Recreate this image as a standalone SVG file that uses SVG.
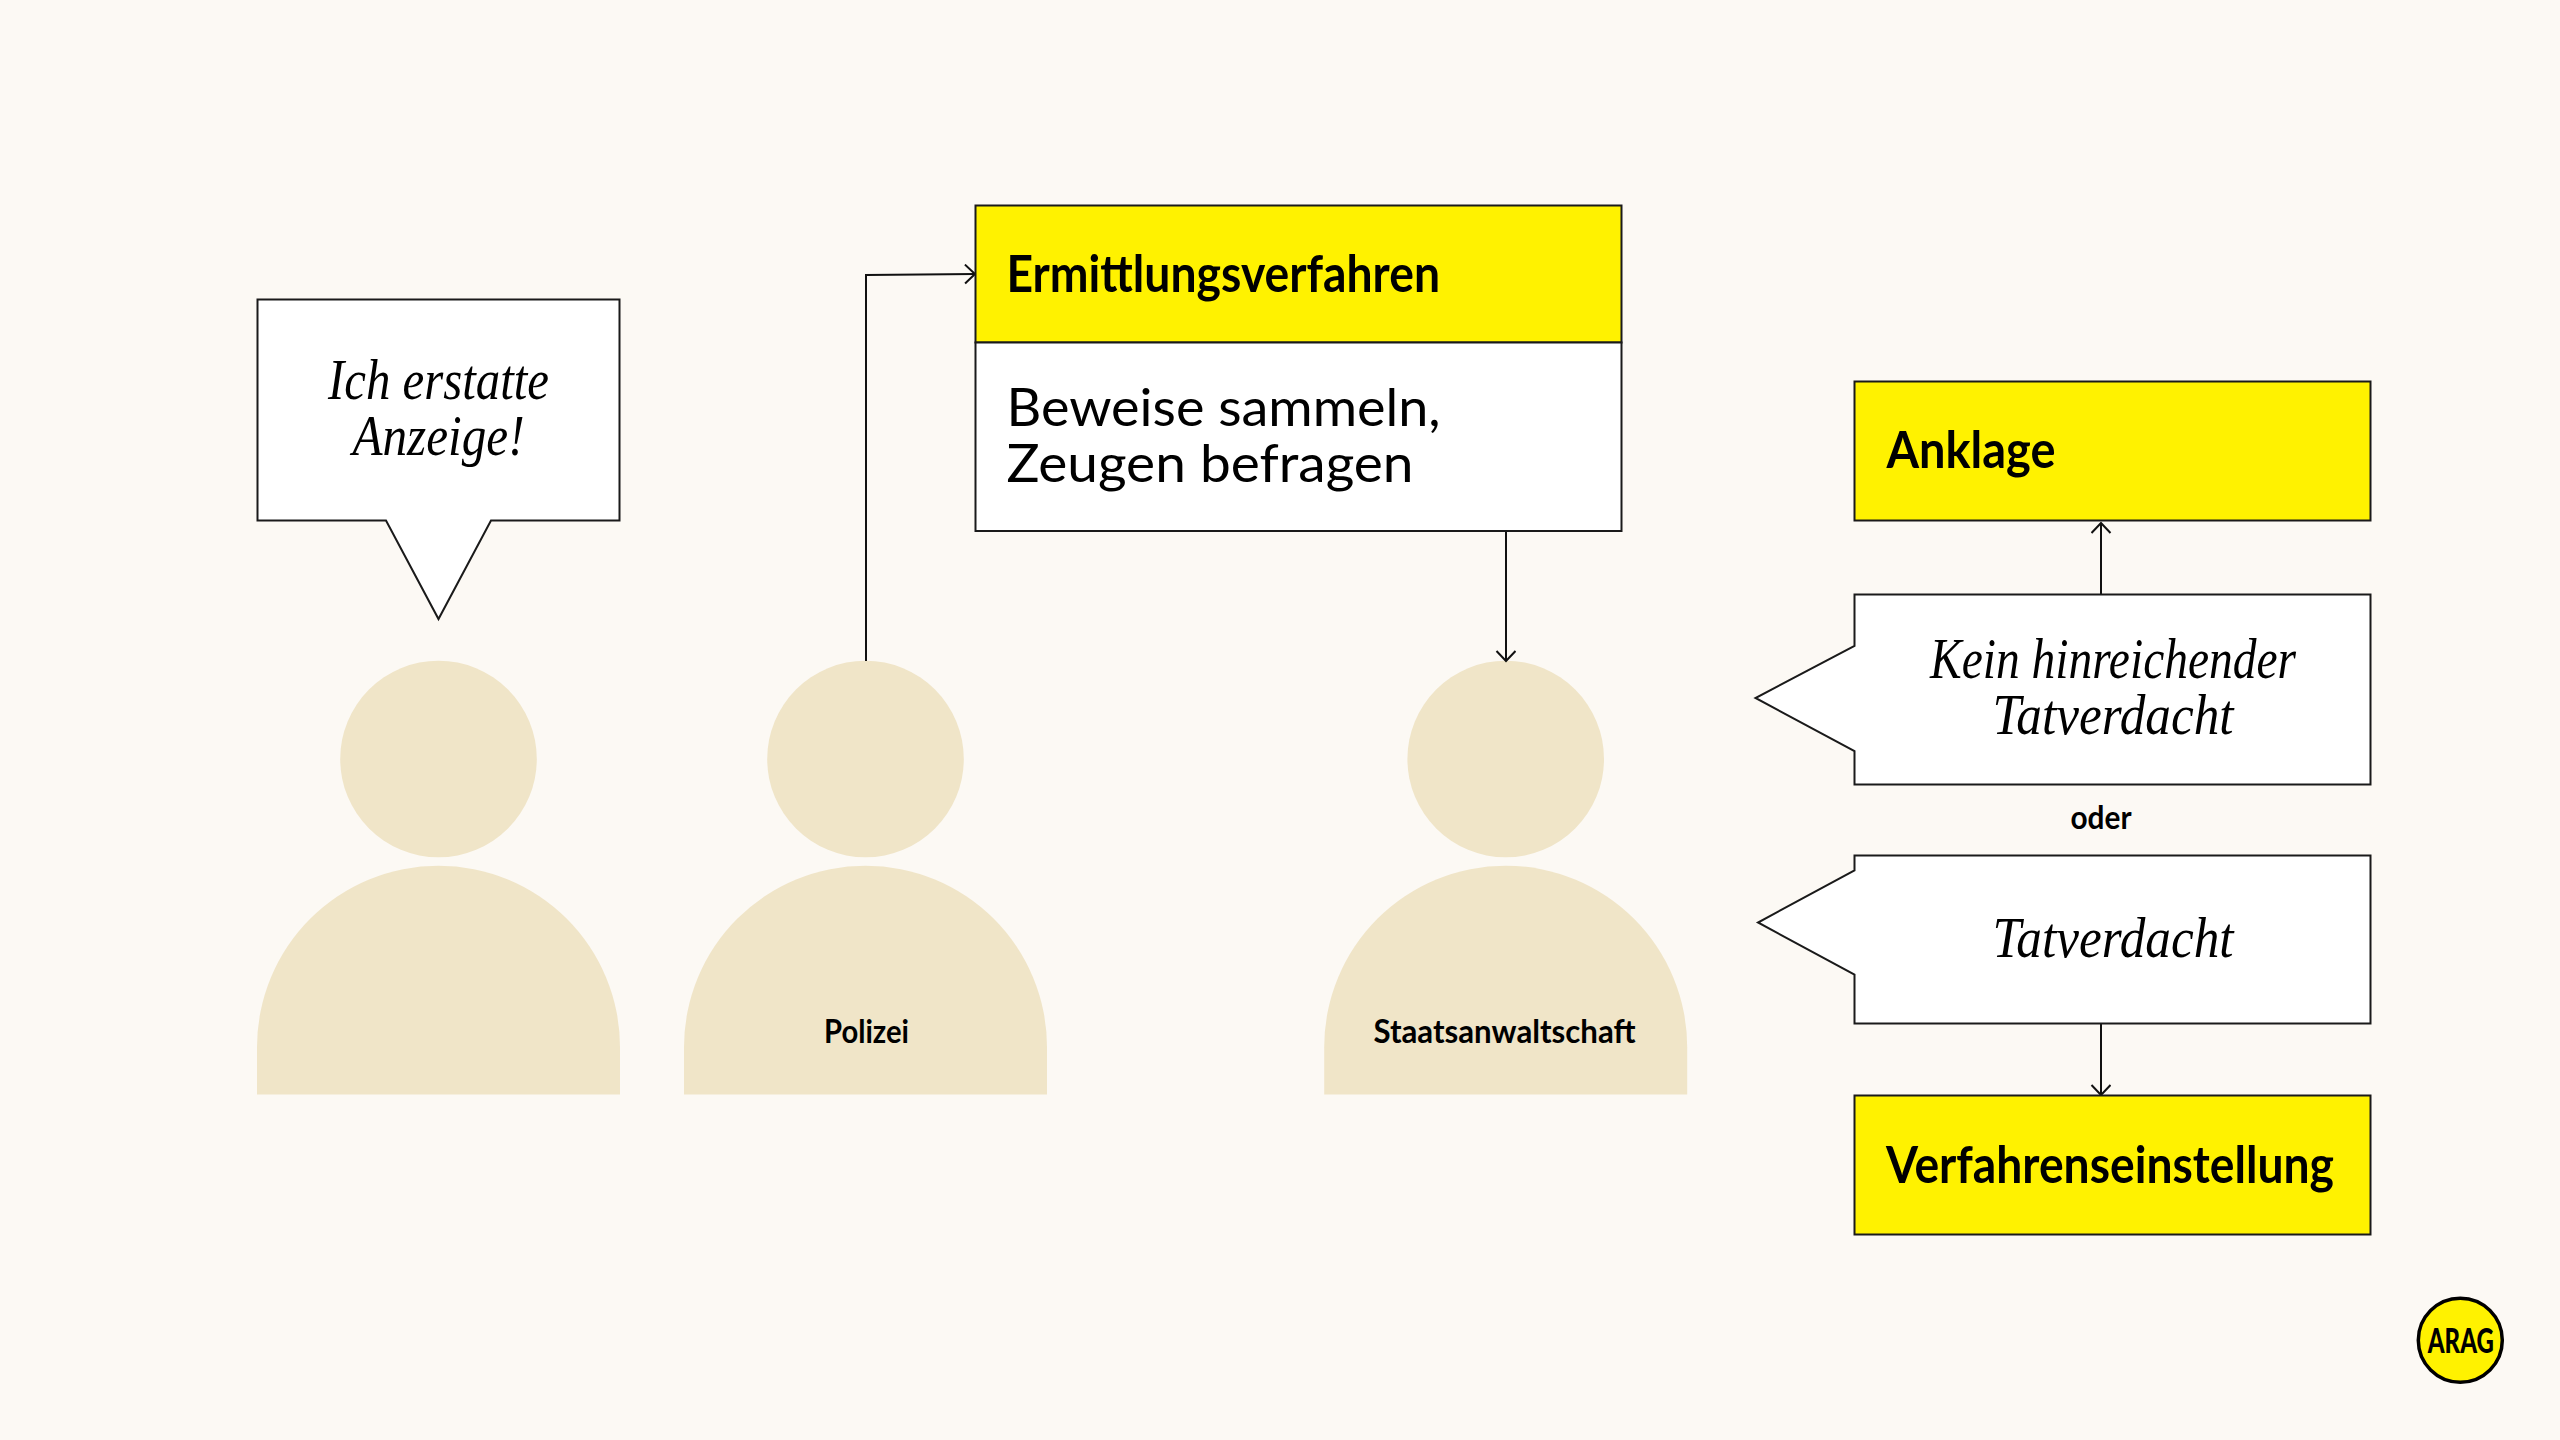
<svg xmlns="http://www.w3.org/2000/svg" width="2560" height="1440" viewBox="0 0 2560 1440">
<style>
.b{fill:#fff;stroke:#1a1a1a;stroke-width:2}
.y{fill:#fff200;stroke:#1a1a1a;stroke-width:2}
.p{fill:#f0e5c8}
.c{fill:none;stroke:#111;stroke-width:2}
.h{font-family:"Lato","Liberation Sans",sans-serif;font-weight:700;font-size:52px;fill:#000}
.r{font-family:"Lato","Liberation Sans",sans-serif;font-weight:400;font-size:52px;fill:#000}
.s{font-family:"Lato","Liberation Sans",sans-serif;font-weight:700;font-size:33px;fill:#000;text-anchor:middle}
.i{font-family:"Liberation Serif",serif;font-style:italic;font-size:56px;fill:#000;text-anchor:middle}
</style>
<defs>
<marker id="a" markerUnits="userSpaceOnUse" markerWidth="24" markerHeight="24" refX="20" refY="10" orient="auto"><path d="M10 0.500L20 10L10 19.500" fill="none" stroke="#111" stroke-width="2"/></marker>
<g id="person"><circle cx="0" cy="759" r="98.300" class="p"/><path class="p" d="M-181.500 1094.500V1047.200A181.500 181.500 0 0 1 181.500 1047.200V1094.500Z"/></g>
</defs>
<rect width="2560" height="1440" fill="#fcf9f4"/>
<g id="person-1"><use href="#person" x="438.500"/></g>
<g id="person-polizei"><use href="#person" x="865.500"/><text class="s" x="866.500" y="1043" textLength="85" lengthAdjust="spacingAndGlyphs">Polizei</text></g>
<g id="person-staatsanwaltschaft"><use href="#person" x="1505.700"/><text class="s" x="1504.500" y="1043" textLength="262" lengthAdjust="spacingAndGlyphs">Staatsanwaltschaft</text></g>
<g id="connectors">
<path class="c" d="M866 661V275L975 274" marker-end="url(#a)"/>
<path class="c" d="M1506 531V661" marker-end="url(#a)"/>
<path class="c" d="M2101 594V523" marker-end="url(#a)"/>
<path class="c" d="M2101 1024V1095" marker-end="url(#a)"/>
</g>
<g id="speech-anzeige">
<path class="b" d="M257.500 299.500H619.500V520.500H491L438.500 619L386 520.500H257.500Z"/>
<text class="i" x="438.500" y="399" textLength="221" lengthAdjust="spacingAndGlyphs">Ich erstatte</text>
<text class="i" x="438.500" y="455" textLength="172" lengthAdjust="spacingAndGlyphs">Anzeige!</text>
</g>
<g id="ermittlungsverfahren">
<rect class="y" x="975.500" y="205.500" width="646" height="137"/>
<rect class="b" x="975.500" y="342.500" width="646" height="188.500"/>
<text class="h" x="1006.500" y="291.500" textLength="433.500" lengthAdjust="spacingAndGlyphs">Ermittlungsverfahren</text>
<text class="r" x="1006.500" y="426" textLength="434" lengthAdjust="spacingAndGlyphs">Beweise sammeln,</text>
<text class="r" x="1006.500" y="482" textLength="407" lengthAdjust="spacingAndGlyphs">Zeugen befragen</text>
</g>
<g id="anklage">
<rect class="y" x="1854.500" y="381.500" width="516" height="139"/>
<text class="h" x="1886.500" y="467.500" textLength="169" lengthAdjust="spacingAndGlyphs">Anklage</text>
</g>
<g id="kein-tatverdacht">
<path class="b" d="M1854.500 594.500H2370.500V784.500H1854.500V751L1755.500 698L1854.500 646Z"/>
<text class="i" x="2113" y="678" textLength="366" lengthAdjust="spacingAndGlyphs">Kein hinreichender</text>
<text class="i" x="2113" y="734" textLength="241" lengthAdjust="spacingAndGlyphs">Tatverdacht</text>
</g>
<text class="s" x="2101" y="829" textLength="61" lengthAdjust="spacingAndGlyphs">oder</text>
<g id="tatverdacht">
<path class="b" d="M1854.500 855.500H2370.500V1023.500H1854.500V974.500L1758 922.500L1854.500 870.500Z"/>
<text class="i" x="2113" y="957" textLength="241" lengthAdjust="spacingAndGlyphs">Tatverdacht</text>
</g>
<g id="verfahrenseinstellung">
<rect class="y" x="1854.500" y="1095.500" width="516" height="139"/>
<text class="h" x="1886" y="1182.500" textLength="448" lengthAdjust="spacingAndGlyphs">Verfahrenseinstellung</text>
</g>
<g id="logo">
<circle cx="2460.300" cy="1340.300" r="42" fill="#fff200" stroke="#000" stroke-width="3.500"/>
<text x="2460.800" y="1352.500" font-family="Lato,sans-serif" font-weight="900" font-size="35" text-anchor="middle" textLength="66" lengthAdjust="spacingAndGlyphs">ARAG</text>
</g>
</svg>
